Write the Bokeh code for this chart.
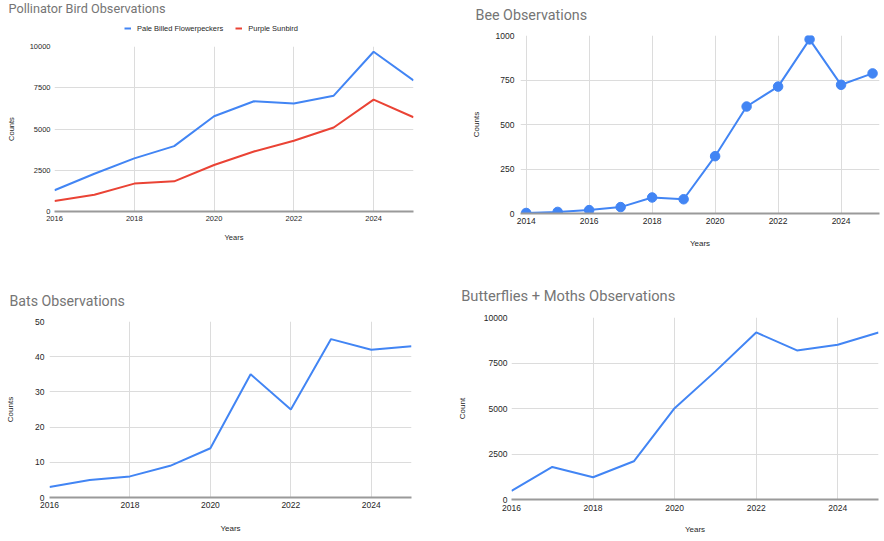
from bokeh.plotting import figure
from bokeh.layouts import column, row
from bokeh.models import FixedTicker, Legend, LegendItem, Range1d
from bokeh.core.properties import value
from bokeh.embed import file_html
from bokeh.resources import INLINE

# ---------------- data ----------------
bird_years = [2016, 2017, 2018, 2019, 2020, 2021, 2022, 2023, 2024, 2025]
flowerpeckers = [1290, 2290, 3220, 3960, 5770, 6680, 6540, 7020, 9680, 7950]
sunbirds = [640, 1010, 1690, 1830, 2820, 3640, 4290, 5090, 6780, 5710]

bee_years = [2014, 2015, 2016, 2017, 2018, 2019, 2020, 2021, 2022, 2023, 2024, 2025]
bees = [3, 9, 19, 36, 90, 80, 322, 601, 713, 978, 723, 787]

bat_years = [2016, 2017, 2018, 2019, 2020, 2021, 2022, 2023, 2024, 2025]
bats = [3, 5, 6, 9, 14, 35, 25, 45, 42, 43]

lep_years = [2016, 2017, 2018, 2019, 2020, 2021, 2022, 2023, 2024, 2025]
butterflies_moths = [470, 1790, 1220, 2100, 5020, 7040, 9180, 8190, 8500, 9180]

bird_xticks = [2016, 2018, 2020, 2022, 2024]
bird_yticks = [0, 2500, 5000, 7500, 10000]
bee_xticks = [2014, 2016, 2018, 2020, 2022, 2024]
bee_yticks = [0, 250, 500, 750, 1000]
bat_xticks = [2016, 2018, 2020, 2022, 2024]
bat_yticks = [0, 10, 20, 30, 40, 50]
lep_xticks = [2016, 2018, 2020, 2022, 2024]
lep_yticks = [0, 2500, 5000, 7500, 10000]

titles = ["Pollinator Bird Observations", "Bee Observations",
          "Bats Observations", "Butterflies + Moths Observations"]
bird_series = ["Pale Billed Flowerpeckers", "Purple Sunbird"]

BLUE = "#4285F4"
RED = "#EA4335"
FONT = "Liberation Sans"
TITLE_FONT = "Roboto"


def header(width, height, title, tx, ty, size):
    h = figure(width=width, height=height, x_range=Range1d(0, width),
               y_range=Range1d(0, height), min_border=0,
               x_axis_location=None, y_axis_location=None,
               output_backend="svg", toolbar_location=None,
               frame_align=False)
    h.outline_line_color = None
    h.xgrid.visible = False
    h.ygrid.visible = False
    h.text(x=[tx], y=[ty], text=[title], text_font=value(TITLE_FONT),
           text_font_size=value(size), text_color="#757575",
           text_baseline="alphabetic", text_align="left")
    return h


def panel(ylabel, xr, yr, xticks, yticks, fw, fh, bl, br, bt, bb,
          ystand, xstand, ylab_stand, xlab_stand, tick_size, lab_size):
    p = figure(frame_width=fw, frame_height=fh,
               x_range=Range1d(*xr), y_range=Range1d(*yr),
               min_border_left=bl, min_border_right=br,
               min_border_top=bt, min_border_bottom=bb,
               output_backend="svg", toolbar_location=None,
               frame_align=False)
    p.outline_line_color = None
    p.xaxis.ticker = FixedTicker(ticks=xticks)
    p.yaxis.ticker = FixedTicker(ticks=yticks)
    p.xgrid.ticker = FixedTicker(ticks=xticks)
    p.ygrid.ticker = FixedTicker(ticks=yticks)
    for g in (p.xgrid[0], p.ygrid[0]):
        g.grid_line_color = "#dcdcdc"
        g.grid_line_width = 1
    for ax in (p.xaxis[0], p.yaxis[0]):
        ax.major_tick_line_color = None
        ax.minor_tick_line_color = None
        ax.major_tick_out = 0
        ax.major_tick_in = 0
        ax.minor_tick_out = 0
        ax.minor_tick_in = 0
        ax.major_label_text_font = FONT
        ax.major_label_text_font_size = tick_size
        ax.major_label_text_color = "#1f1f1f"
        ax.axis_label_text_font = FONT
        ax.axis_label_text_font_size = lab_size
        ax.axis_label_text_font_style = "normal"
        ax.axis_label_text_color = "#1f1f1f"
    p.yaxis.axis_line_color = None
    p.xaxis.axis_line_color = "#9a9a9a"
    p.xaxis.axis_line_width = 2
    p.yaxis.major_label_standoff = ystand
    p.xaxis.major_label_standoff = xstand
    p.yaxis.axis_label_standoff = ylab_stand
    p.xaxis.axis_label_standoff = xlab_stand
    p.xaxis.axis_label = "Years"
    p.yaxis.axis_label = ylabel
    return p


# Pollinator birds
h1 = header(440, 38, titles[0], 8, 29.7, "12.7px")
# legend swatches reference the series (they fall outside the header's view)
la = h1.line(bird_years, flowerpeckers, line_color=BLUE, line_width=2)
lb = h1.line(bird_years, sunbirds, line_color=RED, line_width=2)
legend = Legend(items=[LegendItem(label=bird_series[0], renderers=[la]),
                       LegendItem(label=bird_series[1], renderers=[lb])],
                location=(124, 4.7), orientation="horizontal",
                padding=0, margin=0, spacing=12, label_standoff=6,
                glyph_width=7, glyph_height=10, label_height=10,
                label_text_font=FONT, label_text_font_size="7.5px",
                label_text_color="#1f1f1f",
                border_line_color=None, background_fill_alpha=0)
h1.add_layout(legend)
p1 = panel("Counts", (2016, 2025), (0, 10000),
           bird_xticks, bird_yticks, 359, 165, 54, 27, 8, 59, 4, 4, 11, 9,
           "7.5px", "7.5px")
p1.line(bird_years, flowerpeckers, line_color=BLUE, line_width=2)
p1.line(bird_years, sunbirds, line_color=RED, line_width=2)

# Bees
h2 = header(444, 27, titles[1], 35, 12.7, "14.3px")
p2 = panel("Counts", (2013.82, 2025.22), (0, 1000),
           bee_xticks, bee_yticks, 359, 178, 80, 5, 8, 57, 6, 4, 12, 12,
           "8.5px", "8px")
p2.line(bee_years, bees, line_color=BLUE, line_width=2)
p2.scatter(bee_years, bees, size=9.5, fill_color=BLUE, line_color=BLUE)

# Bats
h3 = header(440, 43, titles[2], 9, 13, "14.2px")
p3 = panel("Counts", (2016, 2025), (0, 50),
           bat_xticks, bat_yticks, 362, 176, 49, 29, 8, 44, 5, 4, 17, 13,
           "8.5px", "8px")
p3.line(bat_years, bats, line_color=BLUE, line_width=2)

# Butterflies + moths
h4 = header(444, 39, titles[3], 20.7, 14, "14.7px")
p4 = panel("Count", (2016, 2025), (0, 10000),
           lep_xticks, lep_yticks, 367, 182, 71, 6, 8, 42, 4, 5, 14, 11,
           "8.5px", "8px")
p4.line(lep_years, butterflies_moths, line_color=BLUE, line_width=2)

layout = column(row(column(h1, p1), column(h2, p2)),
                row(column(h3, p3), column(h4, p4)))
open("out.html", "w").write(file_html(layout, INLINE))
